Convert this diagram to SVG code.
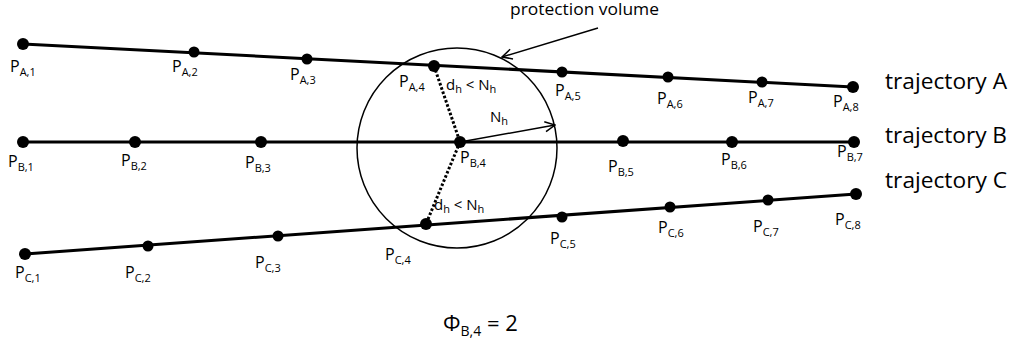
<svg xmlns="http://www.w3.org/2000/svg" width="1014" height="349" viewBox="0 0 1014 349">
<style>
text{font-family:"Open Sans","Liberation Sans",sans-serif;fill:#000}
.lbl{font-size:16px}
.sub{font-size:11px}
.ann{font-size:15px}
.traj{stroke:#000;stroke-width:3;fill:none}
.dot{fill:#000}
.thin{stroke:#000;stroke-width:1.5;fill:none}
.dots{stroke:#000;stroke-width:3;stroke-dasharray:2.5 2;fill:none}
.big{font-size:21px}
</style>
<defs>
<marker id="open" viewBox="0 0 12 12" refX="11" refY="6" markerWidth="12" markerHeight="12" markerUnits="userSpaceOnUse" orient="auto">
<path d="M1,1 L11,6 L1,11" fill="none" stroke="#000" stroke-width="1.5"/>
</marker>
</defs>
<g id="connectors">
<line class="traj" x1="23" y1="44" x2="853" y2="87"/>
<line class="traj" x1="23" y1="142" x2="854" y2="142"/>
<line class="traj" x1="25" y1="254" x2="856" y2="194"/>
<circle id="protection-volume" class="thin" cx="457" cy="148" r="100"/>
<line class="dots" x1="434" y1="66" x2="460" y2="142"/>
<line class="dots" x1="460" y1="142" x2="426" y2="224"/>
<line class="thin" x1="460" y1="142" x2="555" y2="125" marker-end="url(#open)"/>
<line class="thin" x1="598" y1="28" x2="502" y2="57" marker-end="url(#open)"/>
</g>
<g id="trajA">
<g id="PA1"><circle class="dot" cx="23" cy="44" r="6"/><text class="lbl" x="10" y="72">P<tspan class="sub" dy="4">A,1</tspan></text></g>
<g id="PA2"><circle class="dot" cx="194" cy="52" r="5.5"/><text class="lbl" x="172" y="72">P<tspan class="sub" dy="4">A,2</tspan></text></g>
<g id="PA3"><circle class="dot" cx="307" cy="59" r="5.5"/><text class="lbl" x="290" y="80">P<tspan class="sub" dy="4">A,3</tspan></text></g>
<g id="PA4"><circle class="dot" cx="434" cy="66" r="6"/><text class="lbl" x="399" y="87">P<tspan class="sub" dy="4">A,4</tspan></text></g>
<g id="PA5"><circle class="dot" cx="562" cy="72" r="5.5"/><text class="lbl" x="555" y="96">P<tspan class="sub" dy="4">A,5</tspan></text></g>
<g id="PA6"><circle class="dot" cx="668" cy="77" r="5.5"/><text class="lbl" x="657" y="104">P<tspan class="sub" dy="4">A,6</tspan></text></g>
<g id="PA7"><circle class="dot" cx="762" cy="82" r="5.5"/><text class="lbl" x="748" y="103">P<tspan class="sub" dy="4">A,7</tspan></text></g>
<g id="PA8"><circle class="dot" cx="853" cy="87" r="6"/><text class="lbl" x="833" y="107">P<tspan class="sub" dy="4">A,8</tspan></text></g>
</g>
<g id="trajB">
<g id="PB1"><circle class="dot" cx="23" cy="142" r="6"/><text class="lbl" x="8" y="167">P<tspan class="sub" dy="4">B,1</tspan></text></g>
<g id="PB2"><circle class="dot" cx="135" cy="142" r="6"/><text class="lbl" x="121" y="166">P<tspan class="sub" dy="4">B,2</tspan></text></g>
<g id="PB3"><circle class="dot" cx="261" cy="142" r="6"/><text class="lbl" x="245" y="168">P<tspan class="sub" dy="4">B,3</tspan></text></g>
<g id="PB4"><circle class="dot" cx="460" cy="142" r="6"/><text class="lbl" x="460" y="163">P<tspan class="sub" dy="4">B,4</tspan></text></g>
<g id="PB5"><circle class="dot" cx="623" cy="141" r="6"/><text class="lbl" x="608" y="172">P<tspan class="sub" dy="4">B,5</tspan></text></g>
<g id="PB6"><circle class="dot" cx="732" cy="142" r="6"/><text class="lbl" x="721" y="165">P<tspan class="sub" dy="4">B,6</tspan></text></g>
<g id="PB7"><circle class="dot" cx="854" cy="142" r="6"/><text class="lbl" x="837" y="157">P<tspan class="sub" dy="4">B,7</tspan></text></g>
</g>
<g id="trajC">
<g id="PC1"><circle class="dot" cx="25" cy="254" r="6"/><text class="lbl" x="15" y="278">P<tspan class="sub" dy="4">C,1</tspan></text></g>
<g id="PC2"><circle class="dot" cx="148" cy="246" r="5.5"/><text class="lbl" x="125" y="278">P<tspan class="sub" dy="4">C,2</tspan></text></g>
<g id="PC3"><circle class="dot" cx="278" cy="236" r="5.5"/><text class="lbl" x="255" y="268">P<tspan class="sub" dy="4">C,3</tspan></text></g>
<g id="PC4"><circle class="dot" cx="426" cy="224" r="6"/><text class="lbl" x="385" y="260">P<tspan class="sub" dy="4">C,4</tspan></text></g>
<g id="PC5"><circle class="dot" cx="562" cy="217" r="5.5"/><text class="lbl" x="550" y="244">P<tspan class="sub" dy="4">C,5</tspan></text></g>
<g id="PC6"><circle class="dot" cx="670" cy="207" r="5.5"/><text class="lbl" x="658" y="233">P<tspan class="sub" dy="4">C,6</tspan></text></g>
<g id="PC7"><circle class="dot" cx="768" cy="200" r="5.5"/><text class="lbl" x="753" y="232">P<tspan class="sub" dy="4">C,7</tspan></text></g>
<g id="PC8"><circle class="dot" cx="856" cy="194" r="6"/><text class="lbl" x="835" y="225">P<tspan class="sub" dy="4">C,8</tspan></text></g>
</g>
<g id="annotations">
<text class="ann" x="446" y="90">d<tspan class="sub" dy="3">h</tspan><tspan dy="-3"> &lt; N</tspan><tspan class="sub" dy="3">h</tspan></text>
<text class="ann" x="490" y="122">N<tspan class="sub" dy="3">h</tspan></text>
<text class="ann" x="434" y="210">d<tspan class="sub" dy="3">h</tspan><tspan dy="-3"> &lt; N</tspan><tspan class="sub" dy="3">h</tspan></text>
<text x="510" y="15" font-size="16" textLength="149" lengthAdjust="spacingAndGlyphs">protection volume</text>
</g>
<g id="legend">
<text class="big" x="885" y="89" textLength="122" lengthAdjust="spacingAndGlyphs">trajectory A</text>
<text class="big" x="885" y="143" textLength="122" lengthAdjust="spacingAndGlyphs">trajectory B</text>
<text class="big" x="885" y="188" textLength="122" lengthAdjust="spacingAndGlyphs">trajectory C</text>
<text x="443" y="331" font-size="22">Φ<tspan font-size="14" dy="5">B,4</tspan><tspan dy="-5"> = 2</tspan></text>
</g>
</svg>
